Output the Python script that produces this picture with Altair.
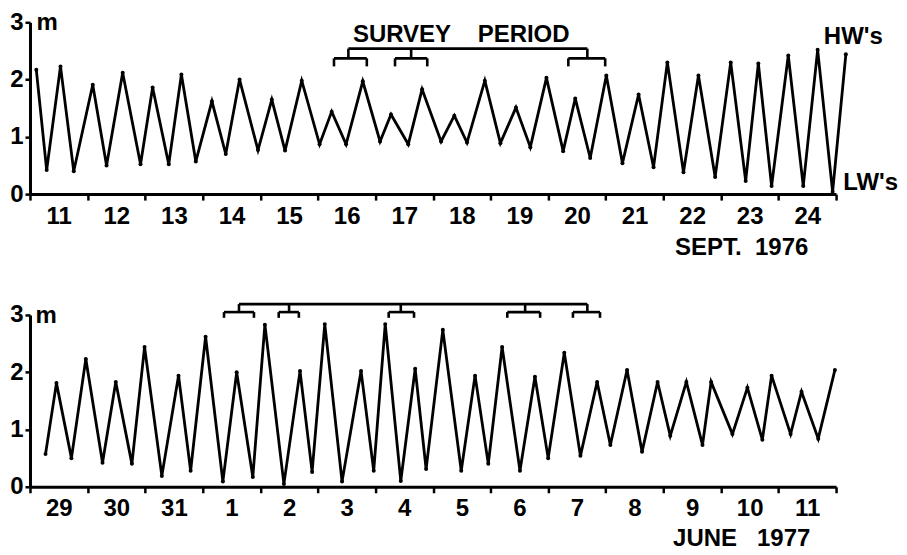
import altair as alt
import pandas as pd

FONT = "Liberation Sans Narrow, Liberation Sans, Arial, sans-serif"
NB = "\u00a0"

# ---- Sept 1976 (days after 11 Sept 00h) ----
top_day = [0.11, 0.29, 0.53, 0.76, 1.09, 1.33, 1.61, 1.92, 2.13, 2.41,
           2.63, 2.88, 3.16, 3.40, 3.64, 3.96, 4.20, 4.43, 4.72, 5.03,
           5.24, 5.49, 5.78, 6.08, 6.27, 6.57, 6.81, 7.14, 7.37, 7.59,
           7.90, 8.17, 8.44, 8.69, 8.97, 9.26, 9.47, 9.73, 10.01, 10.29,
           10.57, 10.83, 11.07, 11.35, 11.61, 11.90, 12.17, 12.43, 12.65, 12.88,
           13.17, 13.43, 13.68, 13.94, 14.17]
top_h = [2.17, 0.42, 2.23, 0.40, 1.91, 0.50, 2.12, 0.52, 1.86, 0.52,
         2.09, 0.57, 1.62, 0.70, 2.00, 0.77, 1.65, 0.76, 1.98, 0.87,
         1.44, 0.87, 1.97, 0.92, 1.39, 0.87, 1.83, 0.92, 1.37, 0.90,
         1.98, 0.89, 1.51, 0.82, 2.03, 0.75, 1.67, 0.63, 2.07, 0.54,
         1.74, 0.47, 2.30, 0.38, 2.07, 0.30, 2.30, 0.23, 2.28, 0.14,
         2.42, 0.14, 2.52, 0.04, 2.44]
top_labels = ["11", "12", "13", "14", "15", "16", "17", "18", "19", "20",
              "21", "22", "23", "24"]
# survey brackets: (left, right, stem)
top_brackets = [(5.28, 5.85, 5.53), (6.34, 6.90, 6.62), (9.35, 9.99, 9.68)]
top_br_levels = (2.54, 2.37, 2.23)  # main line, small bar, small bar ends

# ---- May/June 1977 (days after 29 May 00h) ----
bot_day = [0.27, 0.46, 0.72, 0.97, 1.26, 1.49, 1.77, 1.99, 2.29, 2.58,
           2.79, 3.05, 3.35, 3.59, 3.87, 4.08, 4.41, 4.69, 4.90, 5.12,
           5.42, 5.75, 5.97, 6.17, 6.44, 6.69, 6.88, 7.17, 7.49, 7.73,
           7.96, 8.20, 8.51, 8.77, 9.00, 9.28, 9.56, 9.85, 10.08, 10.37,
           10.63, 10.90, 11.12, 11.40, 11.68, 11.83, 12.20, 12.46, 12.72, 12.88,
           13.21, 13.40, 13.69, 13.98]
bot_h = [0.57, 1.81, 0.50, 2.23, 0.42, 1.83, 0.40, 2.44, 0.19, 1.94,
         0.28, 2.62, 0.09, 2.00, 0.17, 2.83, 0.05, 2.02, 0.26, 2.84,
         0.09, 2.02, 0.28, 2.84, 0.10, 2.06, 0.31, 2.74, 0.28, 1.94,
         0.40, 2.44, 0.28, 1.92, 0.50, 2.34, 0.54, 1.83, 0.73, 2.04,
         0.61, 1.83, 0.89, 1.83, 0.73, 1.83, 0.92, 1.73, 0.82, 1.94,
         0.92, 1.66, 0.84, 2.04]
bot_labels = ["29", "30", "31", "1", "2", "3", "4", "5", "6", "7",
              "8", "9", "10", "11"]
bot_brackets = [(3.37, 3.89, 3.63), (4.32, 4.67, 4.50), (6.23, 6.67, 6.44),
                (8.29, 8.86, 8.60), (9.43, 9.90, 9.68)]
bot_br_levels = (3.19, 3.05, 2.95)

W, H = 807, 172
DAY_PX = W / 14.0


def bracket_segments(brackets, levels):
    main, bar, ends = levels
    rows = []
    stems = [b[2] for b in brackets]
    rows.append(dict(x=min(stems), x2=max(stems), y=main, y2=main))
    for left, right, stem in brackets:
        rows.append(dict(x=stem, x2=stem, y=main, y2=bar))
        rows.append(dict(x=left, x2=right, y=bar, y2=bar))
        rows.append(dict(x=left, x2=left, y=bar, y2=ends))
        rows.append(dict(x=right, x2=right, y=bar, y2=ends))
    return pd.DataFrame(rows)


def panel(days, heights, labels, title, title_y, brackets, levels, texts):
    df = pd.DataFrame({"t": days, "h": heights})
    lab_js = "[" + ",".join("'%s'" % s for s in labels) + ",'']"
    xscale = alt.Scale(domain=[0, 14], nice=False, zero=False)
    yscale = alt.Scale(domain=[0, 3], nice=False)
    xaxis = alt.Axis(values=list(range(15)), labelExpr=lab_js + "[datum.value]",
                     labelOffset=DAY_PX / 2, labelOverlap=False, labelFlush=False,
                     tickSize=6, tickWidth=2.5, domainWidth=3, labelPadding=4,
                     labelFontSize=24, labelFont=FONT, labelFontWeight="bold",
                     labelColor="black", tickColor="black", domainColor="black",
                     grid=False, title=title, titleFont=FONT, titleFontSize=24,
                     titleFontWeight="bold", titleColor="black",
                     titleX=712, titleY=title_y, titleAnchor="start",
                     titleAlign="center", titleBaseline="middle")
    yaxis = alt.Axis(values=[0, 1, 2, 3], format="d", tickSize=5, tickWidth=2.5,
                     domainWidth=3, labelPadding=2, labelFontSize=24, labelFont=FONT,
                     labelFontWeight="bold", labelColor="black", tickColor="black",
                     domainColor="black", grid=False, title=None)
    base = alt.Chart(df)
    line = base.mark_line(color="black", strokeWidth=2.8).encode(
        x=alt.X("t:Q", scale=xscale, axis=xaxis),
        y=alt.Y("h:Q", scale=yscale, axis=yaxis),
    )
    pts = base.mark_circle(color="black", size=16, opacity=1).encode(
        x=alt.X("t:Q", scale=xscale), y=alt.Y("h:Q", scale=yscale))
    seg = alt.Chart(bracket_segments(brackets, levels)).mark_rule(
        color="black", strokeWidth=2.6).encode(
        x=alt.X("x:Q", scale=xscale), x2="x2:Q",
        y=alt.Y("y:Q", scale=yscale), y2="y2:Q")
    tdf = pd.DataFrame(texts, columns=["x", "y", "txt"])
    txt = alt.Chart(tdf).mark_text(font=FONT, fontSize=24, fontWeight="bold",
                                   color="black", align="center",
                                   baseline="middle").encode(
        x=alt.X("x:Q", scale=xscale), y=alt.Y("y:Q", scale=yscale), text="txt:N")
    return alt.layer(seg, line, pts, txt).properties(width=W, height=H)


top = panel(top_day, top_h, top_labels, "SEPT." + NB * 2 + "1976", 53,
            top_brackets, top_br_levels,
            [(0.3, 2.98, "m"), (7.49, 2.78, "SURVEY" + NB * 4 + "PERIOD"),
             (14.3, 2.75, "HW's"), (14.6, 0.19, "LW's")])
bottom = panel(bot_day, bot_h, bot_labels, "JUNE" + NB * 3 + "1977", 52,
               bot_brackets, bot_br_levels, [(0.28, 2.98, "m")])

chart = alt.vconcat(top, bottom, spacing=43).properties(
    padding={"left": 1, "top": 2, "right": 0, "bottom": 0},
    background="white",
).configure_view(stroke=None)

chart.save("out.html", embed_options={"renderer": "svg", "actions": False})
